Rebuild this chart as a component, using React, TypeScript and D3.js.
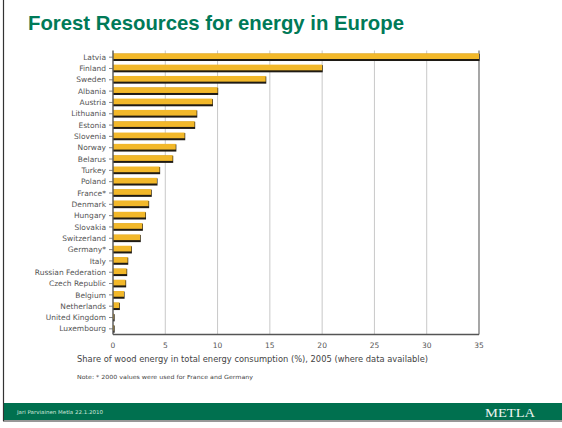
import React from "react";
import * as d3 from "d3";

const countries = [
  "Latvia", "Finland", "Sweden", "Albania", "Austria", "Lithuania", "Estonia",
  "Slovenia", "Norway", "Belarus", "Turkey", "Poland", "France*", "Denmark",
  "Hungary", "Slovakia", "Switzerland", "Germany*", "Italy", "Russian Federation",
  "Czech Republic", "Belgium", "Netherlands", "United Kingdom", "Luxembourg",
];
const shares = [
  35.0, 20.0, 14.6, 10.0, 9.5, 8.0, 7.8, 6.85, 6.0, 5.7, 4.45, 4.2, 3.65, 3.4,
  3.1, 2.8, 2.6, 1.75, 1.4, 1.3, 1.2, 1.05, 0.6, 0.1, 0.1,
];
const xTicks = [0, 5, 10, 15, 20, 25, 30, 35];

const titleText = "Forest Resources for energy in Europe";
const axisTitle = "Share of wood energy in total energy consumption (%), 2005 (where data available)";
const noteText = "Note: * 2000 values were used for France and Germany";
const footerLeft = "Jari Parviainen Metla 22.1.2010";
const footerRight = "METLA";

export default function App() {
  const W = 562, H = 428;
  const x0 = 113, x1 = 479, yTop = 51.5, yBot = 334.5;
  const x = d3.scaleLinear().domain([0, 35]).range([x0, x1]);
  const y = d3.scaleBand<string>().domain(countries).range([yTop, yBot]).paddingInner(0.32).paddingOuter(0.16);
  const bh = y.bandwidth();
  const font = "'DejaVu Sans', sans-serif";
  return (
    <svg width={W} height={H} style={{ position: "absolute", left: 0, top: 0, background: "#fff" }}>
      <rect x={0} y={0} width={W} height={H} fill="#fff" />
      {/* page border */}
      <line x1={3.5} y1={0} x2={3.5} y2={421} stroke="#333" strokeWidth={1.2} />
      <rect x={4} y={403} width={W - 4} height={17} fill="#00704f" />
      <line x1={3} y1={421} x2={W} y2={421} stroke="#333" strokeWidth={1.2} />
      <text x={17} y={413.5} fontFamily={font} fontSize={5.3} fill="#cfe6da" textLength={86} lengthAdjust="spacingAndGlyphs">{footerLeft}</text>
      <text x={485} y={417} fontFamily="'Liberation Serif', 'DejaVu Serif', serif" fontSize={13.5} fill="#eef5f1" textLength={50} lengthAdjust="spacingAndGlyphs">{footerRight}</text>

      {/* title */}
      <text x={28} y={30} fontFamily="'Liberation Sans', Arial, sans-serif" fontWeight="bold" fontSize={21} fill="#007a58" textLength={376} lengthAdjust="spacingAndGlyphs">{titleText}</text>

      {/* gridlines */}
      {xTicks.slice(1, -1).map((t) => (
        <line key={"g" + t} x1={x(t)} x2={x(t)} y1={yTop - 1} y2={yBot} stroke="#c8c8c8" strokeWidth={1} />
      ))}
      <line x1={x(35)} x2={x(35)} y1={yTop - 1} y2={yBot} stroke="#777" strokeWidth={1.3} />

      {/* bars */}
      {countries.map((c, i) => {
        const yy = y(c)!;
        const w = x(shares[i]) - x0;
        return (
          <g key={c}>
            <rect x={x0} y={yy + 0.5} width={w + 0.6} height={bh - 0.5} fill="#1e1a14" />
            <rect x={x0} y={yy} width={w} height={bh - 2} fill="#f2b82a" />
          </g>
        );
      })}

      {/* axes */}
      <line x1={x0} x2={x0} y1={yTop - 1} y2={yBot} stroke="#555" strokeWidth={1.4} />
      <line x1={x0} x2={x1} y1={yBot} y2={yBot} stroke="#555" strokeWidth={1.4} />
      {countries.map((c) => {
        const cy = y(c)! + bh / 2;
        return (
          <g key={"t" + c}>
            <line x1={x0 - 4} x2={x0} y1={cy} y2={cy} stroke="#666" strokeWidth={0.8} />
            <text x={x0 - 7} y={cy} dy="0.35em" textAnchor="end" fontFamily={font} fontSize={7.5} fill="#555">{c}</text>
          </g>
        );
      })}
      {xTicks.map((t) => (
        <text key={"x" + t} x={x(t)} y={347.5} textAnchor="middle" fontFamily={font} fontSize={7.5} fill="#555">{t}</text>
      ))}
      <text x={77} y={362} fontFamily={font} fontSize={8.5} fill="#444" textLength={351} lengthAdjust="spacingAndGlyphs">{axisTitle}</text>
      <text x={77} y={379} fontFamily={font} fontSize={5.6} fill="#444" textLength={176} lengthAdjust="spacingAndGlyphs">{noteText}</text>
    </svg>
  );
}
